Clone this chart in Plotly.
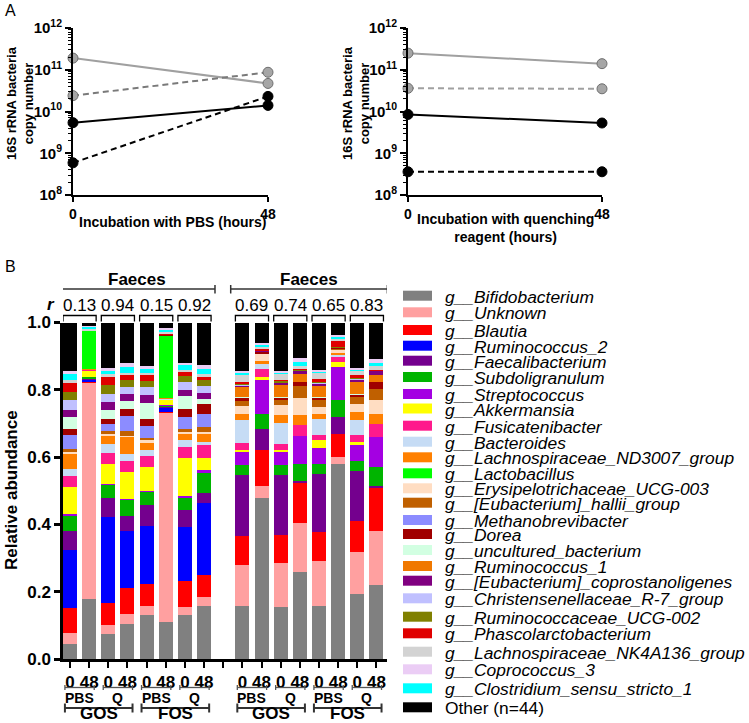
import plotly.graph_objects as go

# ---------------- DATA ----------------
# Panel A: 16S rRNA copy number at 0 h and 48 h
time_h = [0, 48]
pbs_grey_solid = [1.9e11, 4.7e10]
pbs_grey_dash = [2.4e10, 8.7e10]
pbs_black_solid = [5.4e9, 1.4e10]
pbs_black_dash = [5.9e8, 2.3e10]
q_grey_solid = [2.5e11, 1.4e11]
q_grey_dash = [3.6e10, 3.5e10]
q_black_solid = [8.5e9, 5.3e9]
q_black_dash = [3.6e8, 3.6e8]
log_tick_vals = [1e8, 1e9, 1e10, 1e11, 1e12]
log_tick_text = ["10<sup>8</sup>", "10<sup>9</sup>", "10<sup>10</sup>", "10<sup>11</sup>", "10<sup>12</sup>"]

# Panel B: samples (two faecal donors)
samples = ["D1_GOS_PBS_0", "D1_GOS_PBS_48", "D1_GOS_Q_0", "D1_GOS_Q_48",
           "D1_FOS_PBS_0", "D1_FOS_PBS_48", "D1_FOS_Q_0", "D1_FOS_Q_48",
           "D2_GOS_PBS_0", "D2_GOS_PBS_48", "D2_GOS_Q_0", "D2_GOS_Q_48",
           "D2_FOS_PBS_0", "D2_FOS_PBS_48", "D2_FOS_Q_0", "D2_FOS_Q_48"]
gap_category = "gap"
sample_ticks = ["0", "48", "0", "48", "0", "48", "0", "48"]
r_values = ["0.13", "0.94", "0.15", "0.92", "0.69", "0.74", "0.65", "0.83"]
pair_labels = ["PBS", "Q", "PBS", "Q", "PBS", "Q", "PBS", "Q"]
group_labels = ["GOS", "FOS", "GOS", "FOS"]
donor_label = "Faeces"

bifidobacterium = [0.047, 0.180, 0.076, 0.106, 0.131, 0.111, 0.131, 0.158, 0.160, 0.480, 0.156, 0.260, 0.160, 0.581, 0.195, 0.220]
unknown = [0.031, 0.644, 0.028, 0.028, 0.027, 0.624, 0.025, 0.029, 0.121, 0.037, 0.130, 0.145, 0.132, 0.020, 0.124, 0.163]
blautia = [0.075, 0.002, 0.064, 0.078, 0.067, 0.001, 0.076, 0.063, 0.087, 0.107, 0.085, 0.122, 0.086, 0.069, 0.094, 0.129]
ruminococcus_2 = [0.173, 0.007, 0.255, 0.171, 0.173, 0.012, 0.163, 0.215, 0, 0, 0, 0, 0, 0, 0, 0]
faecalibacterium = [0.057, 0.001, 0.057, 0.043, 0.060, 0.001, 0.050, 0.029, 0.181, 0.061, 0.178, 0.002, 0.172, 0.052, 0.147, 0.005]
subdoligranulum = [0.045, 0.006, 0.039, 0.049, 0.041, 0.007, 0.037, 0.063, 0.030, 0.045, 0.028, 0.052, 0.031, 0.048, 0.029, 0.055]
streptococcus = [0.003, 0.001, 0.003, 0.003, 0.003, 0.001, 0.003, 0.005, 0.040, 0.102, 0.039, 0.082, 0.048, 0.098, 0.047, 0.089]
akkermansia = [0.081, 0.019, 0.059, 0.080, 0.070, 0.015, 0.113, 0.037, 0.005, 0.009, 0.008, 0.000, 0.022, 0.017, 0.010, 0.000]
fusicatenibacter = [0.034, 0.001, 0.032, 0.032, 0.032, 0.002, 0.033, 0.037, 0.019, 0.023, 0.017, 0.035, 0.017, 0.014, 0.020, 0.039]
bacteroides = [0.020, 0.001, 0.027, 0.020, 0.019, 0.001, 0.022, 0.010, 0.068, 0.013, 0.061, 0.000, 0.047, 0.006, 0.046, 0.000]
lachno_nd3007 = [0.045, 0.001, 0.026, 0.052, 0.023, 0.002, 0.020, 0.027, 0.019, 0.010, 0.026, 0.030, 0.015, 0.005, 0.023, 0.030]
lactobacillus = [0, 0.114, 0, 0, 0, 0.186, 0, 0, 0, 0, 0, 0, 0, 0, 0, 0]
erysipelotrichaceae = [0.006, 0, 0.005, 0.003, 0.005, 0.001, 0.004, 0.003, 0.022, 0.021, 0.027, 0.050, 0.020, 0.012, 0.025, 0.040]
hallii_group = [0.008, 0, 0.007, 0.014, 0.007, 0, 0.009, 0.014, 0.016, 0.002, 0.015, 0.034, 0.020, 0.003, 0.020, 0.034]
methanobrevibacter = [0.041, 0, 0.021, 0.045, 0.037, 0, 0.036, 0.040, 0, 0, 0, 0, 0, 0, 0, 0]
dorea = [0.020, 0, 0.017, 0.021, 0.020, 0.001, 0.021, 0.030, 0.010, 0.004, 0.010, 0.012, 0.010, 0.001, 0.008, 0.020]
uncultured = [0.034, 0.001, 0.026, 0.023, 0.047, 0.001, 0.041, 0.013, 0.001, 0, 0.001, 0, 0.001, 0, 0.001, 0]
ruminococcus_1 = [0, 0, 0, 0, 0, 0, 0, 0, 0.030, 0.002, 0.035, 0.024, 0.033, 0.001, 0.037, 0.020]
coprostanoligenes = [0.020, 0, 0.022, 0.021, 0.023, 0.001, 0.016, 0.019, 0.006, 0.001, 0.006, 0.012, 0.006, 0.001, 0.006, 0.015]
christensenellaceae = [0.030, 0, 0.025, 0.022, 0.024, 0, 0.025, 0.022, 0.002, 0, 0.002, 0, 0.002, 0, 0.002, 0]
ruminococcaceae_ucg002 = [0.024, 0, 0.026, 0.020, 0.020, 0, 0.018, 0.017, 0.004, 0.001, 0.004, 0.001, 0.004, 0.002, 0.005, 0.001]
phascolarctobacterium = [0.028, 0.001, 0.024, 0.017, 0.015, 0.001, 0.012, 0.008, 0.005, 0.006, 0.004, 0.001, 0.008, 0.017, 0.005, 0.001]
lachno_nk4a136 = [0.009, 0.003, 0.010, 0.004, 0.008, 0.005, 0.005, 0.008, 0.019, 0.006, 0.017, 0.011, 0.018, 0.005, 0.013, 0.011]
clostridium = [0.017, 0.007, 0.008, 0.017, 0.012, 0.008, 0.014, 0.015, 0.007, 0.006, 0.005, 0.011, 0.005, 0.008, 0.006, 0.009]
coprococcus_3 = [0.010, 0.002, 0.009, 0.011, 0.009, 0.005, 0.008, 0.012, 0.005, 0.006, 0.004, 0.012, 0.003, 0.005, 0.004, 0.012]
other = [0.142, 0.009, 0.134, 0.120, 0.127, 0.014, 0.118, 0.126, 0.143, 0.058, 0.142, 0.104, 0.140, 0.035, 0.133, 0.107]

taxa_names = ["g__Bifidobacterium", "g__Unknown", "g__Blautia", "g__Ruminococcus_2", "g__Faecalibacterium",
              "g__Subdoligranulum", "g__Streptococcus", "g__Akkermansia", "g__Fusicatenibacter", "g__Bacteroides",
              "g__Lachnospiraceae_ND3007_group", "g__Lactobacillus", "g__Erysipelotrichaceae_UCG-003",
              "g__[Eubacterium]_hallii_group", "g__Methanobrevibacter", "g__Dorea", "g__uncultured_bacterium",
              "g__Ruminococcus_1", "g__[Eubacterium]_coprostanoligenes", "g__Christensenellaceae_R-7_group",
              "g__Ruminococcaceae_UCG-002", "g__Phascolarctobacterium", "g__Lachnospiraceae_NK4A136_group",
              "g__Coprococcus_3", "g__Clostridium_sensu_stricto_1", "Other (n=44)"]
taxa_values = [bifidobacterium, unknown, blautia, ruminococcus_2, faecalibacterium, subdoligranulum, streptococcus,
               akkermansia, fusicatenibacter, bacteroides, lachno_nd3007, lactobacillus, erysipelotrichaceae,
               hallii_group, methanobrevibacter, dorea, uncultured, ruminococcus_1, coprostanoligenes,
               christensenellaceae, ruminococcaceae_ucg002, phascolarctobacterium, lachno_nk4a136,
               coprococcus_3, clostridium, other]
taxa_colors = ["#808080", "#FFA0A0", "#FF0000", "#0000FF", "#74008E", "#00B400", "#A400E2", "#FFFF00",
               "#FF1A8C", "#C6DCF5", "#FF8000", "#00FF00", "#FFDDC2", "#C06000", "#8C8CFF", "#A00000",
               "#D2FFE2", "#F07800", "#800080", "#C0C0FF", "#808000", "#E00000", "#D3D3D3", "#EBCDF5",
               "#00FFFF", "#000000"]
# order in which segments are stacked (bottom -> top), as seen in the bars
stack_order = list(range(23)) + [24, 23, 25]

# ---------------- LAYOUT HELPERS ----------------
W, H = 749, 723
FONT = "Liberation Sans, Arial, sans-serif"


def fx(px):
    return px / W


def fy(py):
    return 1 - py / H


fig = go.Figure()

# ---------------- PANEL A ----------------
series_a = [
    ("x", "y", pbs_grey_solid, "#A0A0A0", "solid", "#A6A6A6", "#6E6E6E"),
    ("x", "y", pbs_grey_dash, "#7A7A7A", "6px,4px", "#A6A6A6", "#6E6E6E"),
    ("x", "y", pbs_black_solid, "#000000", "solid", "#000000", "#000000"),
    ("x", "y", pbs_black_dash, "#000000", "6px,4px", "#000000", "#000000"),
    ("x2", "y2", q_grey_solid, "#A0A0A0", "solid", "#A6A6A6", "#6E6E6E"),
    ("x2", "y2", q_grey_dash, "#A0A0A0", "6px,4px", "#A6A6A6", "#6E6E6E"),
    ("x2", "y2", q_black_solid, "#000000", "solid", "#000000", "#000000"),
    ("x2", "y2", q_black_dash, "#000000", "6px,4px", "#000000", "#000000"),
]
for xa, ya, vals, lc, dash, fc, oc in series_a:
    fig.add_trace(go.Scatter(x=time_h, y=vals, mode="lines+markers", xaxis=xa, yaxis=ya,
                             line=dict(color=lc, width=2, dash=dash),
                             marker=dict(size=10, color=fc, line=dict(color=oc, width=1)),
                             cliponaxis=False, showlegend=False, hoverinfo="skip"))

# ---------------- PANEL B ----------------
for idx in stack_order:
    fig.add_trace(go.Bar(x=samples, y=taxa_values[idx], name=taxa_names[idx], xaxis="x3", yaxis="y3",
                         marker=dict(color=taxa_colors[idx], line=dict(width=0)), width=0.73,
                         showlegend=False))

axis_order = samples[:8] + [gap_category] + samples[8:]
axis_ticktext = sample_ticks + [" "] + sample_ticks

top_x_common = dict(range=[0, 48], tickvals=time_h, ticktext=[str(t) for t in time_h], showline=True,
                    linecolor="black", linewidth=2, ticks="outside", ticklen=5, tickwidth=2,
                    tickcolor="black", showgrid=False, zeroline=False, automargin=False,
                    tickfont=dict(family=FONT, size=14, color="black", weight="bold"))
top_y_common = dict(type="log", range=[8, 12], tickvals=log_tick_vals, ticktext=log_tick_text,
                    showline=True, linecolor="black", linewidth=2, ticks="outside", ticklen=6,
                    tickwidth=2, tickcolor="black", showgrid=False, zeroline=False, automargin=False,
                    minor=dict(ticks="outside", ticklen=3, tickwidth=1, tickcolor="black", dtick="D1",
                               showgrid=False),
                    tickfont=dict(family=FONT, size=15, color="black", weight="bold"))

fig.update_layout(
    width=W, height=H, margin=dict(l=0, r=0, t=0, b=0, pad=0), autosize=False,
    paper_bgcolor="white", plot_bgcolor="white", barmode="stack", bargap=0,
    font=dict(family=FONT, color="black"),
    xaxis=dict(domain=[fx(73), fx(268)], anchor="y", **top_x_common),
    yaxis=dict(domain=[fy(195), fy(28)], anchor="x", **top_y_common),
    xaxis2=dict(domain=[fx(408), fx(602)], anchor="y2", **top_x_common),
    yaxis2=dict(domain=[fy(195), fy(28)], anchor="x2", **top_y_common),
    xaxis3=dict(domain=[fx(63), fx(387)], anchor="y3", type="category", categoryorder="array",
                categoryarray=axis_order, tickmode="array", tickvals=axis_order, ticktext=axis_ticktext,
                range=[-0.365, 16.55], showline=True, linecolor="black", linewidth=2.5,
                ticks="outside", ticklen=6, tickwidth=2, tickcolor="black", showgrid=False,
                zeroline=False, automargin=False,
                tickfont=dict(family=FONT, size=17, color="black", weight="bold")),
    yaxis3=dict(domain=[fy(659), fy(322.5)], anchor="x3", range=[0, 1],
                tickvals=[0, 0.2, 0.4, 0.6, 0.8, 1.0], tickformat=".1f", showline=True,
                linecolor="black", linewidth=2.5, ticks="outside", ticklen=6, tickwidth=2.5,
                tickcolor="black", showgrid=False, zeroline=False, automargin=False,
                tickfont=dict(family=FONT, size=17, color="black", weight="bold")),
)

ann = []
shapes = []


def text(x, y, s, size, bold=False, xref="paper", xanchor="center", yanchor="middle", angle=0, italic=False):
    t = s
    if bold:
        t = "<b>" + t + "</b>"
    if italic:
        t = "<i>" + t + "</i>"
    ann.append(dict(x=x, y=y, xref=xref, yref="paper", text=t, showarrow=False, xanchor=xanchor,
                    yanchor=yanchor, textangle=angle,
                    font=dict(family=FONT, size=size, color="black")))


# panel letters
text(fx(3), fy(11), "A", 16, xanchor="left")
text(fx(3), fy(266), "B", 16, xanchor="left")

# panel A titles
text(fx(20), fy(103), "16S rRNA bacteria<br>copy number", 13, bold=True, angle=-90)
text(fx(356), fy(103), "16S rRNA bacteria<br>copy number", 13, bold=True, angle=-90)
text(fx(172), fy(222), "Incubation with PBS (hours)", 14, bold=True)
text(fx(505), fy(228), "Incubation with quenching<br>reagent (hours)", 14, bold=True)

# panel B y title
text(fx(11), fy(490), "Relative abundance", 17, bold=True, angle=-90)

# helpers in category units for panel B
half = 0.365
group_starts = [0, 9]
for g, start in enumerate(group_starts):
    center = start + 3.5
    text(center, fy(279), donor_label, 17, bold=True, xref="x3")
    x0, x1 = start - 0.61, start + 7.57
    shapes.append(dict(type="line", xref="x3", yref="paper", x0=x0, x1=x1, y0=fy(289), y1=fy(289),
                       line=dict(color="#333333", width=1.5)))
    for xe in (x0, x1):
        shapes.append(dict(type="line", xref="x3", yref="paper", x0=xe, x1=xe, y0=fy(285), y1=fy(293.5),
                           line=dict(color="#333333", width=1.5)))
    for p in range(4):
        a = start + 2 * p
        k = g * 4 + p
        text(a + 0.5, fy(305), r_values[k], 17, xref="x3")
        # bracket above pair
        shapes.append(dict(type="path", xref="x3", yref="paper",
                           path=f"M {a - half},{fy(321.5)} L {a - half},{fy(315.5)} L {a + 1 + half},{fy(315.5)} L {a + 1 + half},{fy(321.5)}",
                           line=dict(color="black", width=1.3)))
        # bracket below pair
        shapes.append(dict(type="line", xref="x3", yref="paper", x0=a - half + 0.1, x1=a + 1 + half - 0.1,
                           y0=fy(687.5), y1=fy(687.5), line=dict(color="#555555", width=1.3)))
        for xe in (a - half + 0.1, a + 1 + half - 0.1):
            shapes.append(dict(type="line", xref="x3", yref="paper", x0=xe, x1=xe, y0=fy(685), y1=fy(690),
                               line=dict(color="#555555", width=1.3)))
        text(a + 0.5, fy(697.5), pair_labels[k], 14, bold=True, xref="x3")
    for q in range(2):
        a = start + 4 * q
        x0, x1 = a - half + 0.1, a + 3 + half - 0.1
        shapes.append(dict(type="line", xref="x3", yref="paper", x0=x0, x1=x1, y0=fy(708), y1=fy(708),
                           line=dict(color="#333333", width=2)))
        for xe in (x0, x1):
            shapes.append(dict(type="line", xref="x3", yref="paper", x0=xe, x1=xe, y0=fy(703.5), y1=fy(712.5),
                               line=dict(color="#333333", width=2)))
        text(a + 1.5, fy(713.5), group_labels[g * 2 + q], 17, bold=True, xref="x3")

text(fx(51), fy(304), "r", 17, bold=True, italic=True)

# manual legend (listed in legend order)
legend_y = [295.7, 312.3, 330, 345.7, 360.7, 377, 394, 408.5, 425.7, 441.7, 457.3, 473.3, 488.3,
            502.7, 520, 534, 550, 566, 580.7, 598.3, 616.7, 633.3, 651.7, 669.3, 688.3, 707.3]
legend_order = list(range(26))
for i, idx in enumerate(legend_order):
    yc = legend_y[i]
    shapes.append(dict(type="rect", xref="paper", yref="paper", x0=fx(403), x1=fx(432),
                       y0=fy(yc + 5), y1=fy(yc - 5), fillcolor=taxa_colors[idx], line=dict(width=0)))
    name = taxa_names[idx]
    label = name if name.startswith("Other") else "<i>" + name + "</i>"
    ann.append(dict(x=fx(443), y=fy(yc + 1), xref="paper", yref="paper", text=label, showarrow=False,
                    xanchor="left", yanchor="middle", font=dict(family=FONT, size=17.4, color="black")))

fig.update_layout(annotations=ann, shapes=shapes)

pin_script = (
    "document.documentElement.style.margin='0';document.documentElement.style.padding='0';"
    "document.documentElement.style.overflow='hidden';"
    "document.body.style.margin='0';document.body.style.padding='0';document.body.style.overflow='hidden';"
    "var gd=document.getElementById('{plot_id}');"
    "gd.style.position='fixed';gd.style.left='0px';gd.style.top='0px';"
    "gd.style.width='749px';gd.style.height='723px';"
)
fig.write_html("out.html", config={"displayModeBar": False, "responsive": False}, post_script=pin_script)
